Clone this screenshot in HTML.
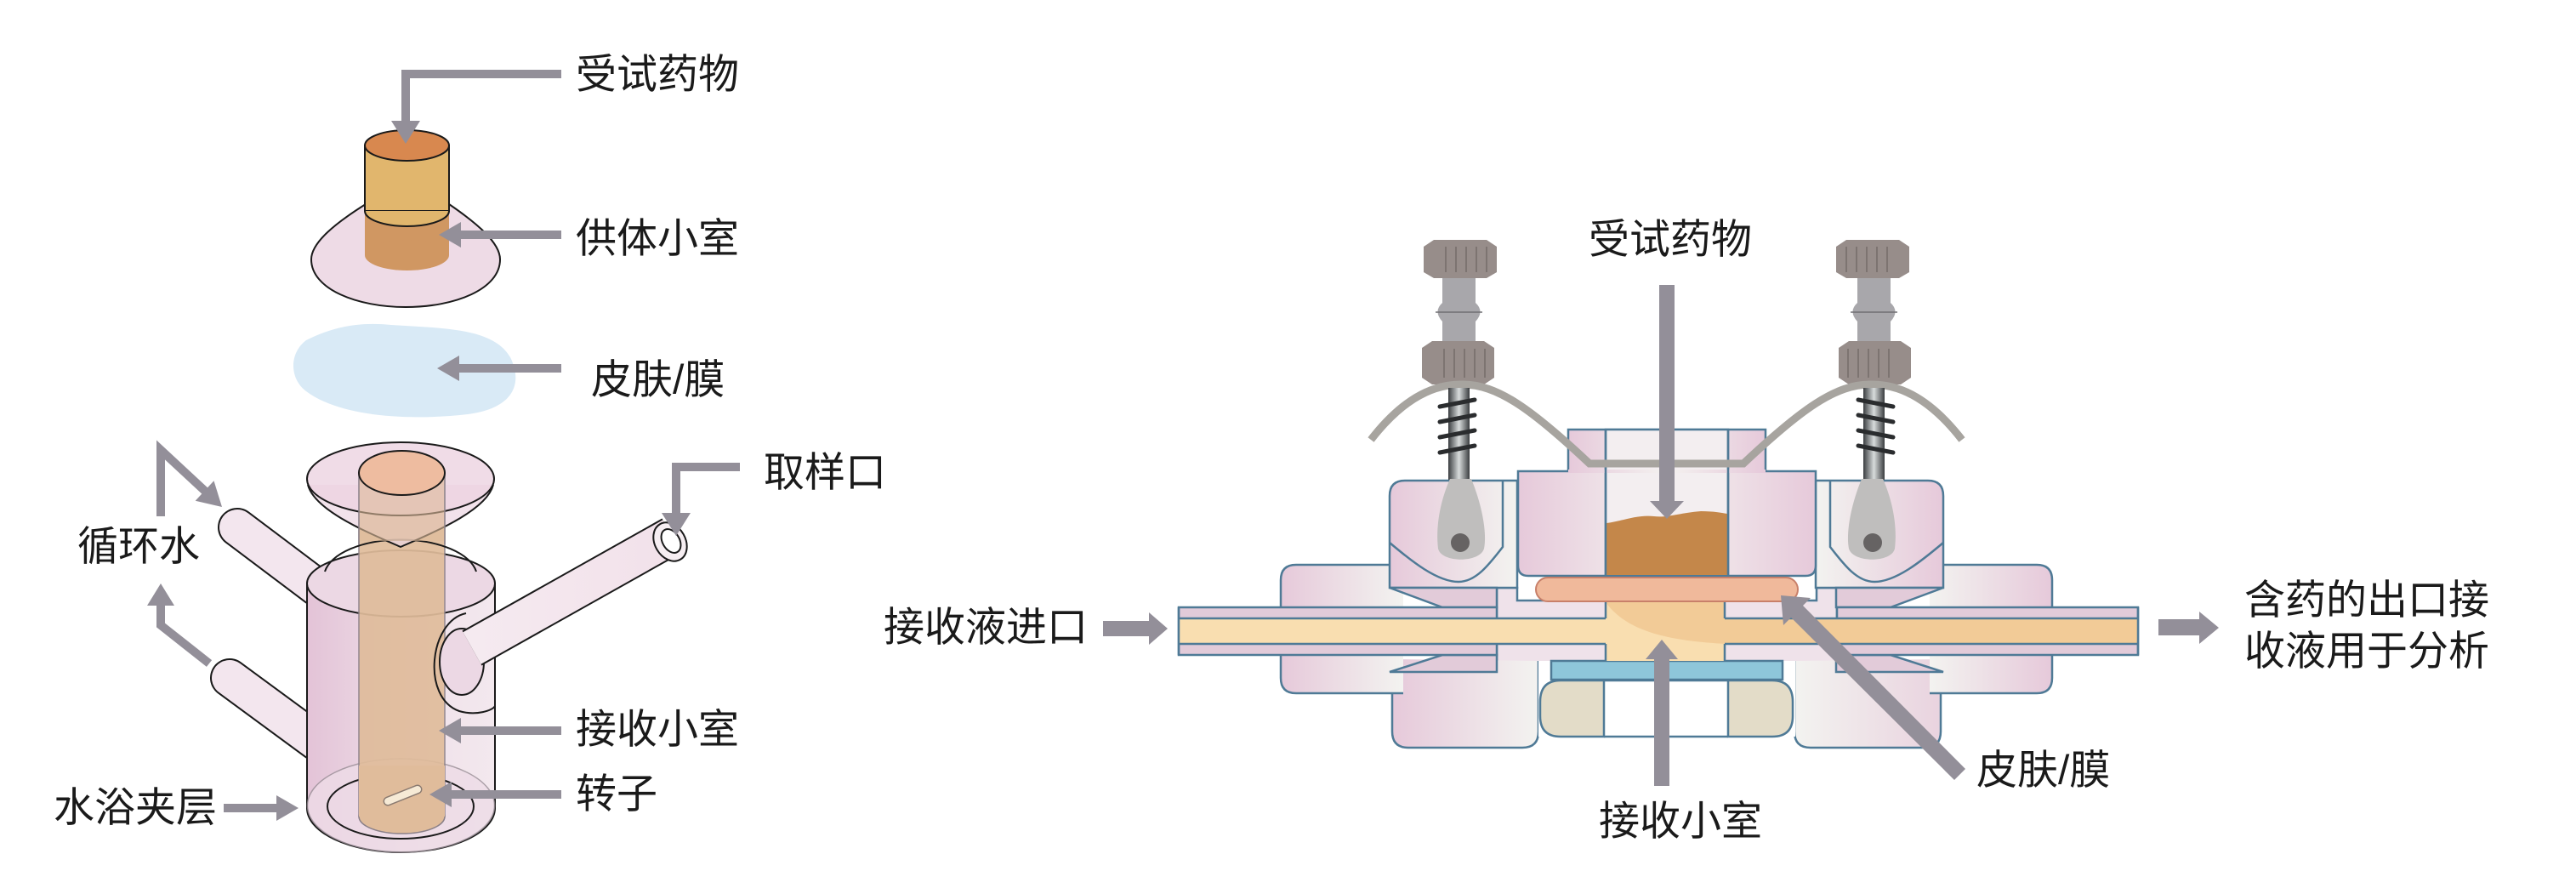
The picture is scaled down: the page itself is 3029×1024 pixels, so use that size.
<!DOCTYPE html>
<html><head><meta charset="utf-8">
<style>
html,body{margin:0;padding:0;background:#fff;}
svg{display:block;}
text{font-family:"Liberation Sans","Noto Sans CJK SC",sans-serif;font-size:48px;fill:#1a1a1a;dominant-baseline:central;}
</style></head><body>
<svg width="3029" height="1024" viewBox="0 0 3029 1024" xmlns="http://www.w3.org/2000/svg">
<defs>
<linearGradient id="bodyG" x1="0" x2="1" y1="0" y2="0">
<stop offset="0" stop-color="#e3c3d7"/><stop offset="0.6" stop-color="#f0e2ea"/><stop offset="1" stop-color="#f3e8ee"/></linearGradient>
<linearGradient id="tubeG" x1="0" x2="1" y1="0" y2="0">
<stop offset="0" stop-color="#f5eaf0"/><stop offset="1" stop-color="#f2e1ea"/></linearGradient>
<linearGradient id="pG" x1="0" x2="1" y1="0" y2="0">
<stop offset="0" stop-color="#e6c9da"/><stop offset="1" stop-color="#f3f3f0"/></linearGradient>
<linearGradient id="pG2" x1="0" x2="1" y1="0" y2="0">
<stop offset="0" stop-color="#f3f3f0"/><stop offset="1" stop-color="#e9d3df"/></linearGradient>
<linearGradient id="donG" x1="0" x2="1" y1="0" y2="0">
<stop offset="0" stop-color="#e6c9da"/><stop offset="0.5" stop-color="#f4f2f0"/><stop offset="1" stop-color="#e6c9da"/></linearGradient>
<linearGradient id="metG" x1="0" x2="1" y1="0" y2="0">
<stop offset="0" stop-color="#3a3d40"/><stop offset="0.5" stop-color="#d8dcdc"/><stop offset="1" stop-color="#3a3d40"/></linearGradient>
</defs>

<!-- ================= LEFT DIAGRAM ================= -->
<path d="M430,240 C395,262 366,285 366,305 C366,340 420,361 477,361 C535,361 588,340 588,305 C588,285 560,262 528,240 Z" fill="#eedbe6" stroke="#1a1a1a" stroke-width="2"/>
<rect x="429" y="248" width="99" height="52" fill="#d09762"/>
<ellipse cx="478.5" cy="300" rx="49.5" ry="18" fill="#d09762"/>
<rect x="429" y="171" width="99" height="77" fill="#e1b66d" stroke="#1a1a1a" stroke-width="2"/>
<path d="M429,248 A49.5,18 0 0 0 528,248" fill="#e1b66d" stroke="#1a1a1a" stroke-width="2"/>
<ellipse cx="478.5" cy="171" rx="49.5" ry="18" fill="#d8884f" stroke="#1a1a1a" stroke-width="2"/>
<path d="M360,400 C390,385 420,378 460,382 C520,386 580,385 600,420 C615,450 605,480 550,487 C480,495 400,490 360,460 C340,445 340,415 360,400 Z" fill="#d9eaf6"/>

<line x1="279" y1="620" x2="372" y2="690" stroke="#1a1a1a" stroke-width="46" stroke-linecap="round"/>
<line x1="279" y1="620" x2="372" y2="690" stroke="#f3e6ee" stroke-width="42" stroke-linecap="round"/>
<line x1="270" y1="797" x2="372" y2="872" stroke="#1a1a1a" stroke-width="46" stroke-linecap="round"/>
<line x1="270" y1="797" x2="372" y2="872" stroke="#f3e6ee" stroke-width="42" stroke-linecap="round"/>
<path d="M361,686 L361,950 A110.5,52 0 0 0 582,950 L582,686 Z" fill="url(#bodyG)" stroke="#1a1a1a" stroke-width="2"/>
<ellipse cx="471.5" cy="686" rx="110.5" ry="39" fill="#ecd8e4" stroke="#1a1a1a" stroke-width="2"/>
<ellipse cx="471.5" cy="947" rx="110" ry="55" fill="#eedce7" stroke="#9a8f97" stroke-width="1.5" opacity="0.8"/>
<ellipse cx="471" cy="948" rx="86" ry="38" fill="none" stroke="#1a1a1a" stroke-width="2"/>
<rect x="422" y="556" width="101" height="404" fill="#e0bc9b" opacity="0.92" stroke="#8a8088" stroke-width="1.5"/>
<ellipse cx="472.5" cy="960" rx="50.5" ry="20" fill="#e0bc9b" stroke="#8a8088" stroke-width="1.5"/>
<rect x="422" y="900" width="101" height="60" fill="#e0bc9b"/>
<path d="M382,672 A90,44 0 0 1 560,672" fill="none" stroke="#1a1a1a" stroke-width="2"/>
<line x1="456" y1="942" x2="491" y2="928" stroke="#8a7a70" stroke-width="11" stroke-linecap="round"/>
<line x1="456" y1="942" x2="491" y2="928" stroke="#f6ead6" stroke-width="8" stroke-linecap="round"/>
<path d="M362,570 C370,600 430,625 471,643 C512,625 572,600 580,570" fill="#edd6e3" fill-opacity="0.7" stroke="#1a1a1a" stroke-width="2"/>
<ellipse cx="471" cy="563" rx="110" ry="43" fill="#ecd3e1" fill-opacity="0.8" stroke="#1a1a1a" stroke-width="2"/>
<rect x="422" y="556" width="101" height="80" fill="#e0bc9b" opacity="0.6"/>
<line x1="422" y1="556" x2="422" y2="640" stroke="#8a8088" stroke-width="1.5"/>
<line x1="523" y1="556" x2="523" y2="640" stroke="#8a8088" stroke-width="1.5"/>
<ellipse cx="472.5" cy="556" rx="50.5" ry="26" fill="#eebca0" stroke="#1a1a1a" stroke-width="2"/>
<path d="M548,721 C505,730 495,820 540,836 C560,842 580,835 582,830" fill="none" stroke="#1a1a1a" stroke-width="2"/>
<ellipse cx="543" cy="778" rx="26" ry="39" fill="#ecd8e4" stroke="#1a1a1a" stroke-width="2"/>
<line x1="555" y1="762" x2="790" y2="630" stroke="#1a1a1a" stroke-width="47"/>
<line x1="555" y1="762" x2="790" y2="630" stroke="url(#tubeG)" stroke-width="43"/>
<ellipse cx="788" cy="637" rx="18" ry="24" transform="rotate(-30 788 637)" fill="#f6eef2" stroke="#1a1a1a" stroke-width="2"/>
<ellipse cx="789" cy="636" rx="10" ry="15" transform="rotate(-30 789 636)" fill="#fff" stroke="#1a1a1a" stroke-width="2"/>

<!-- left arrows -->
<g fill="#938f99" stroke="none">
<path d="M660,82 L472,82 L472,142 L460,142 L477,169 L494,142 L482,142 L482,92 L660,92 Z"/>
<path d="M660,271 L542,271 L542,261 L516,276 L542,291 L542,281 L660,281 Z"/>
<path d="M660,428 L540,428 L540,418 L514,433 L540,448 L540,438 L660,438 Z"/>
<path d="M870,544 L790,544 L790,603 L778,603 L795,630 L812,603 L800,603 L800,554 L870,554 Z"/>
<path d="M660,854 L542,854 L542,844 L516,859 L542,874 L542,864 L660,864 Z"/>
<path d="M660,929 L531,929 L531,919 L505,934 L531,949 L531,939 L660,939 Z"/>
<path d="M263,945 L325,945 L325,935 L351,950 L325,965 L325,955 L263,955 Z"/>
<polygon points="261,596 229.7,588.7 251.5,565.3"/>
<polygon points="189,686 173,712 205,712"/>
</g>
<polyline points="189,607 189,529 244,580" fill="none" stroke="#938f99" stroke-width="10" stroke-linejoin="miter"/>
<polyline points="246,780 189,735 189,710" fill="none" stroke="#938f99" stroke-width="10" stroke-linejoin="miter"/>
<text x="677" y="88">受试药物</text>
<text x="677" y="281">供体小室</text>
<text x="695" y="447">皮肤/膜</text>
<text x="898" y="556">取样口</text>
<text x="91" y="643">循环水</text>
<text x="677" y="858">接收小室</text>
<text x="677" y="934">转子</text>
<text x="63" y="950">水浴夹层</text>

<!-- ================= RIGHT DIAGRAM ================= -->
<g stroke="#4f7a96" stroke-width="2.5">
<path d="M1760,691 L1784,691 L1784,706 L2136,706 L2136,691 L2160,691 L2160,790 L1760,790 Z" fill="#efe2ea"/>
<path d="M1637,775 L1637,860 Q1637,879 1656,879 L1790,879 Q1809,879 1809,860 L1809,777" fill="url(#pG)"/>
<path d="M2282,775 L2282,860 Q2282,879 2263,879 L2129,879 Q2110,879 2110,860 L2110,777" fill="url(#pG2)"/>
</g>
<g stroke="#4f7a96" stroke-width="2.5">
<rect x="1809" y="777" width="302" height="89" fill="#ffffff" stroke="none"/>
<rect x="1824" y="777" width="272" height="22" fill="#8ec6da"/>
<path d="M1886,800 L1835,800 Q1811,800 1811,825 L1811,842 Q1811,866 1835,866 L1886,866 Z" fill="#e3dcc8"/>
<path d="M2032,800 L2084,800 Q2108,800 2108,825 L2108,842 Q2108,866 2084,866 L2032,866 Z" fill="#e3dcc8"/>
<line x1="1886" y1="800" x2="2032" y2="800"/>
<line x1="1886" y1="866" x2="2032" y2="866"/>
</g>

<g id="side">
<g stroke="#4f7a96" stroke-width="2.5">
<path d="M1650,664 L1524,664 Q1506,664 1506,682 L1506,797 Q1506,815 1524,815 L1650,815" fill="url(#pG)"/>
<path d="M1634,691 L1634,583 Q1634,565 1652,565 L1784,565 L1784,691 Z" fill="url(#pG)"/>
<path d="M1767,565 L1767,643 C1750,665 1735,684 1715,684 C1690,684 1660,660 1634,638" fill="none"/>
<path d="M1634,691 L1760,691 L1760,714 L1696,714 Z" fill="#e2cbd9"/>
<path d="M1634,790 L1760,790 L1760,770 L1696,770 Z" fill="#e2cbd9"/>
</g>
<rect x="1703" y="452" width="25" height="112" fill="url(#metG)"/>
<g stroke="#2a2c2e" stroke-width="5" stroke-linecap="round">
<line x1="1693" y1="478" x2="1734" y2="470"/><line x1="1693" y1="496" x2="1734" y2="488"/>
<line x1="1693" y1="514" x2="1734" y2="506"/><line x1="1693" y1="532" x2="1734" y2="524"/>
</g>
<path d="M1696,327 L1735,327 L1735,356 Q1746,366 1735,378 L1735,406 L1696,406 L1696,378 Q1685,366 1696,356 Z" fill="#a8a7ab"/>
<line x1="1688" y1="367" x2="1743" y2="367" stroke="#6f6e72" stroke-width="1.5"/>
<polygon points="1686,282 1748,282 1760,290 1760,320 1748,327 1686,327 1674,320 1674,290" fill="#978d8a"/>
<polygon points="1684,401 1745,401 1757,409 1757,444 1745,452 1684,452 1672,444 1672,409" fill="#978d8a"/>
<g stroke="#7d7471" stroke-width="2">
<line x1="1700" y1="290" x2="1700" y2="320"/><line x1="1712" y1="290" x2="1712" y2="320"/><line x1="1724" y1="290" x2="1724" y2="320"/><line x1="1736" y1="290" x2="1736" y2="320"/><line x1="1748" y1="290" x2="1748" y2="320"/>
<line x1="1698" y1="410" x2="1698" y2="444"/><line x1="1710" y1="410" x2="1710" y2="444"/><line x1="1722" y1="410" x2="1722" y2="444"/><line x1="1734" y1="410" x2="1734" y2="444"/><line x1="1746" y1="410" x2="1746" y2="444"/>
</g>
<path d="M1705,563 L1730,563 C1745,600 1748,630 1745,645 C1740,662 1695,662 1691,645 C1688,620 1693,590 1705,563 Z" fill="#bfbebd"/>
<circle cx="1717" cy="638" r="11" fill="#666363"/>
</g>
<use href="#side" transform="translate(3919,0) scale(-1,1)"/>

<g stroke="#4f7a96" stroke-width="2.5">
<rect x="1386" y="714" width="374" height="56" fill="#e2cbd9"/>
<rect x="2160" y="714" width="354" height="56" fill="#e2cbd9"/>
</g>
<rect x="1386" y="727" width="1128" height="30" fill="#f9deb0"/>
<path d="M1888,708 C1910,738 1950,753 2030,757 L2514,757 L2514,727 L2028,727 L2028,708 Z" fill="#f2cb97"/>
<rect x="1888" y="700" width="140" height="77" fill="#f9deb0"/>
<path d="M1888,708 C1910,738 1950,753 2030,757 L2028,708 Z" fill="#f2cb97"/>
<g stroke="#4f7a96" stroke-width="2.5" fill="none">
<line x1="1386" y1="727" x2="1888" y2="727"/><line x1="1386" y1="757" x2="1888" y2="757"/>
<line x1="2028" y1="727" x2="2514" y2="727"/><line x1="2028" y1="757" x2="2514" y2="757"/>
<line x1="1888" y1="706" x2="1888" y2="727"/><line x1="2028" y1="706" x2="2028" y2="727"/>
<line x1="1888" y1="757" x2="1888" y2="777"/><line x1="2028" y1="757" x2="2028" y2="777"/>
<line x1="1386" y1="714" x2="1386" y2="770"/><line x1="2514" y1="714" x2="2514" y2="770"/>
</g>

<g stroke="#4f7a96" stroke-width="2.5">
<path d="M1844,554 L1844,505 L2076,505 L2076,554" fill="url(#donG)"/>
<path d="M1785,554 L2135,554 L2135,665 Q2135,677 2123,677 L1797,677 Q1785,677 1785,665 Z" fill="url(#donG)"/>
<rect x="1888" y="505" width="144" height="172" fill="#f3eef0"/>
</g>
<rect x="1844" y="552" width="232" height="4" fill="url(#donG)"/>
<path d="M1889,615 C1910,612 1925,605 1945,607 C1960,609 1975,603 2000,601 C2015,601 2025,603 2031,604 L2031,676 L1889,676 Z" fill="#c4874a"/>
<line x1="1888" y1="505" x2="1888" y2="677" stroke="#4f7a96" stroke-width="2.5"/>
<line x1="2032" y1="505" x2="2032" y2="677" stroke="#4f7a96" stroke-width="2.5"/>
<rect x="1806" y="679" width="308" height="28" rx="14" fill="#f0b99b" stroke="#c8806a" stroke-width="2"/>
<!-- wire on top -->
<path d="M1612,517 C1660,455 1700,452 1720,452 C1760,452 1800,480 1869,545 L2050,545 C2119,480 2159,452 2199,452 C2219,452 2259,455 2307,517" fill="none" stroke="#a7a49f" stroke-width="9"/>
<!-- redraw screw shafts over wire -->
<rect x="1703" y="456" width="25" height="10" fill="url(#metG)"/>
<rect x="2191" y="456" width="25" height="10" fill="url(#metG)"/>

<g fill="#938f99">
<path d="M1951,335 L1969,335 L1969,589 L1980,589 L1960,610 L1940,589 L1951,589 Z"/>
<path d="M1945,924 L1963,924 L1963,775 L1973,775 L1954,752 L1935,775 L1945,775 Z"/>
<path d="M1297,730 L1351,730 L1351,720 L1373,739 L1351,758 L1351,748 L1297,748 Z"/>
<path d="M2538,728 L2586,728 L2586,719 L2609,738 L2586,757 L2586,747 L2538,747 Z"/>
<path d="M2298,917 L2311,904 L2120,712 L2129,703 L2094,700 L2097,735 L2106,726 Z"/>
</g>
<text x="1868" y="282">受试药物</text>
<text x="1039" y="738">接收液进口</text>
<text x="2639" y="706">含药的出口接</text>
<text x="2639" y="766">收液用于分析</text>
<text x="1880" y="966">接收小室</text>
<text x="2324" y="906">皮肤/膜</text>
</svg>
</body></html>
